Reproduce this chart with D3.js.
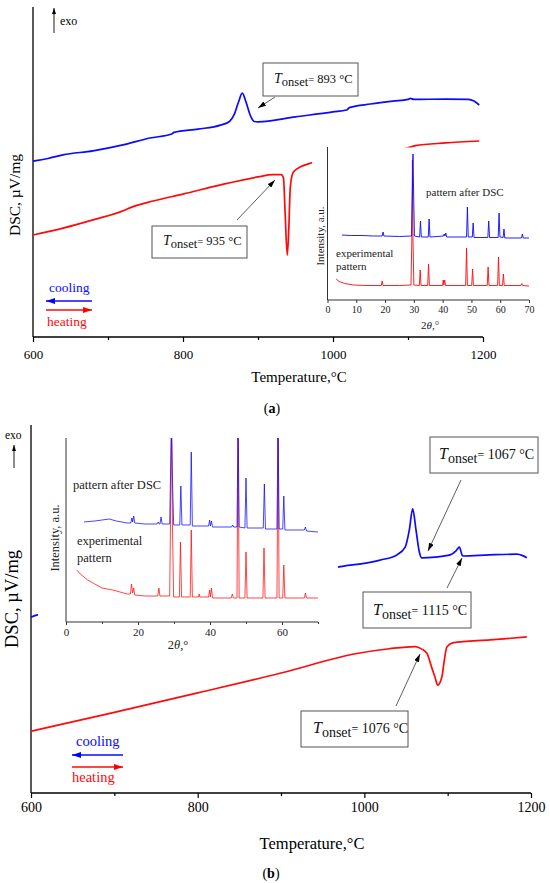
<!DOCTYPE html>
<html><head><meta charset="utf-8">
<script src="https://cdn.jsdelivr.net/npm/d3@7/dist/d3.min.js"></script>
<style>
html,body{margin:0;padding:0;background:#fff;}
svg{display:block;font-family:"Liberation Serif","Times New Roman",serif;}
</style></head>
<body>
<script>
// ---------- DATA ----------
const tempTicks = [600, 800, 1000, 1200];
const tempMinorTicks = [700, 900, 1100];
const xrdTicksA = [0, 10, 20, 30, 40, 50, 60, 70];
const xrdTicksB = [0, 20, 40, 60];
const xrdMinorB = [10, 30, 50, 70];

// Panel (a) DSC, arbitrary units [T °C, signal]
const dscA_cooling = [[600,53.3],[620,54.1],[640,55.2],[680,56.4],[720,58.2],[756,60.3],[785,61.5],[788,62.0],[820,63.0],[850,64.2],[862,65.3],[868,67.3],[874,71.2],[879,73.9],[884,71.2],[890,67.0],[895,65.3],[900,65.2],[950,66.7],[1000,68.2],[1018,68.8],[1022,69.5],[1050,70.6],[1080,71.5],[1100,72.0],[1103,72.3],[1108,72.0],[1150,72.1],[1180,72.0],[1188,71.5],[1195,70.3]];
const dscA_heating = [[600,30.9],[640,33.0],[680,35.5],[722,38.4],[730,39.2],[760,41.2],[800,43.3],[850,46.1],[900,48.5],[920,49.2],[931,49.2],[934,48.2],[936,38.5],[939,24.8],[941,32.4],[943,45.2],[946,49.4],[950,50.6],[956,51.5],[972,52.8],[1010,54.5],[1100,57.3],[1110,58.0],[1150,58.8],[1195,59.4]];

// Panel (b) DSC
const dscB_cooling = [[600,47.8],[608,48.4],[700,51.1],[800,55.2],[900,58.7],[968,61.4],[1019,63.3],[1039,64.7],[1049,66.8],[1054,71.5],[1058,77.2],[1062,71.5],[1066,65.5],[1069,63.9],[1085,64.1],[1103,64.7],[1110,65.8],[1114,66.8],[1118,64.4],[1150,64.7],[1183,64.9],[1190,64.5],[1195,63.9]];
const dscB_heating = [[600,16.8],[700,21.9],[800,27.2],[900,32.6],[991,37.9],[1030,39.2],[1061,39.8],[1069,39.1],[1075,38.0],[1081,34.0],[1085,31.3],[1088,29.3],[1093,31.5],[1096,36.1],[1099,39.7],[1106,40.8],[1151,41.6],[1195,42.4]];

// Inset (a) XRD [2θ, intensity a.u.]
const xrdA_after = [[5,65],[8,64.5],[12,64.5],[16,64],[19,64],[19.3,68],[19.6,64],[25,63.5],[29.2,64],[29.5,110],[29.7,146],[29.9,110],[30.2,64],[32.0,63],[32.3,79],[32.6,63],[35.0,63],[35.3,81],[35.6,63],[40.3,64],[40.5,66],[40.8,64],[41.1,67],[41.4,63],[47,63],[48.3,63],[48.6,93],[48.9,63],[50.3,63],[50.6,77],[50.9,62.5],[55.7,62.5],[56,79],[56.3,62.5],[59.3,62.5],[59.6,87],[59.9,63],[61.0,62.5],[61.3,71],[61.6,62],[67.4,62],[67.7,66],[68,62],[70,62]];
const xrdA_exp = [[3,21],[4,18.5],[6,16.5],[9,15],[13,14.5],[18.7,14.5],[19,19],[19.3,14.5],[25,14.5],[29.0,15],[29.3,60],[29.5,140],[29.7,60],[30.0,15],[31.9,14.5],[32.2,30],[32.5,14.5],[34.8,14.5],[35.1,36],[35.4,14.5],[40,14.5],[40.2,20],[40.4,15],[40.7,20],[41,14.5],[48.0,14.5],[48.3,52],[48.6,14.5],[50.1,14.5],[50.4,31],[50.7,14.5],[55.5,14.5],[55.8,33],[56.1,14.5],[59.1,14.5],[59.4,43],[59.7,14.5],[60.8,14.5],[61.1,26],[61.4,14.5],[67.2,14.5],[67.5,16.5],[67.8,14.5],[70,14]];

// Inset (b) XRD
const xrdB_after = [[5,100],[8,101],[10,102],[12,103],[14,101],[17,99],[18.0,99],[18.3,104],[18.5,100],[18.8,106],[19.1,99],[22,98],[25.3,98],[25.6,100],[25.9,98],[26.1,98],[26.4,105],[26.7,98],[28.8,98],[29.0,140],[29.3,200],[29.6,140],[29.9,97],[31.6,97],[31.9,136],[32.2,97],[34.5,97],[34.8,170],[35.1,96],[39.6,96],[39.9,102],[40.1,96],[40.4,101],[40.7,95],[46.0,95],[46.3,97],[46.6,95],[47.5,95],[47.8,200],[48.1,95],[49.7,94],[50.0,144],[50.3,94],[54.8,94],[55.1,138],[55.4,93],[58.6,93],[58.9,200],[59.2,93],[60.2,93],[60.5,126],[60.8,92],[66.2,92],[66.5,95],[66.8,91],[70,90]];
const xrdB_exp = [[3,52],[4,48],[6,42],[8,38],[10,34],[13,32],[17,28],[17.9,28],[18.2,38],[18.5,29],[18.8,34],[19.1,27],[22,26],[25.5,26],[25.8,34],[26.1,26],[28.8,26],[29.0,90],[29.3,200],[29.6,90],[29.9,25],[31.5,25],[31.8,80],[32.1,25],[34.5,25],[34.8,92],[35.1,25],[36.8,25],[37.0,28],[37.2,25],[39.6,25],[39.9,32],[40.1,25],[40.4,34],[40.7,24],[45.9,24],[46.2,28],[46.5,24],[47.5,24],[47.8,200],[48.1,24],[49.7,24],[50.0,70],[50.3,24],[54.7,24],[55.0,74],[55.3,24],[58.6,24],[58.9,200],[59.2,24],[60.2,24],[60.5,57],[60.8,24],[66.2,24],[66.5,29],[66.8,24],[70,24]];

const onsetA = ["893", "935"];
const onsetB = ["1067", "1115", "1076"];

// ---------- DRAW ----------
const W = 550, H = 883;
const svg = d3.select("body").append("svg").attr("width", W).attr("height", H);
const defs = svg.append("defs");
function marker(id, color, len, wid) {
  defs.append("marker").attr("id", id).attr("markerUnits", "userSpaceOnUse")
    .attr("viewBox", `0 -${wid/2} ${len} ${wid}`).attr("refX", len).attr("refY", 0)
    .attr("markerWidth", len).attr("markerHeight", wid).attr("orient", "auto")
    .append("path").attr("d", `M0,-${wid/2}L${len},0L0,${wid/2}Z`).attr("fill", color);
}
marker("ahK", "#000", 8, 5);
marker("ahB", "#0000ff", 9, 6);
marker("ahR", "#ff0000", 9, 6);
marker("ahExo", "#000", 6, 4);

const BLUE = "#0a0aff", RED = "#ff0a0a";
const FONT = "Liberation Serif";

function drawPanel(cfg) {
  const g = svg.append("g");
  const x = d3.scaleLinear().domain([600, 1200]).range([cfg.x0, cfg.x1]);
  const y = d3.scaleLinear().domain([0, 100]).range([cfg.yb, cfg.yt]);
  g.append("line").attr("x1", cfg.x0).attr("x2", cfg.x0).attr("y1", cfg.yt).attr("y2", cfg.yb)
    .attr("stroke", "#000").attr("stroke-width", 1.3);
  const ax = g.append("g").attr("transform", `translate(0,${cfg.yb})`)
    .call(d3.axisBottom(x).tickValues(tempTicks).tickFormat(d3.format("d")).tickSize(5).tickSizeOuter(0).tickPadding(cfg.tp));
  ax.attr("font-family", FONT);
  ax.select(".domain").attr("stroke-width", 1.3).attr("d", `M${cfg.x0},0H${cfg.x1}`);
  ax.selectAll(".tick line").attr("stroke-width", 1.2);
  ax.selectAll("text").attr("font-size", cfg.tfs).attr("font-family", FONT).attr("fill", "#000");
  const axm = g.append("g").attr("transform", `translate(0,${cfg.yb})`)
    .call(d3.axisBottom(x).tickValues(tempMinorTicks).tickFormat("").tickSize(3).tickSizeOuter(0));
  axm.select(".domain").remove();
  axm.selectAll(".tick line").attr("stroke-width", 1.2);
  g.append("text").attr("x", cfg.xlx).attr("y", cfg.xly).attr("text-anchor", "middle")
    .attr("font-size", cfg.xlfs).text("Temperature,°C");
  g.append("text").attr("x", cfg.plx).attr("y", cfg.ply).attr("text-anchor", "middle")
    .attr("font-size", 14).html(`(<tspan font-weight="bold">${cfg.pl}</tspan>)`);
  g.append("text").attr("transform", `translate(${cfg.ylx},${cfg.yly}) rotate(-90)`)
    .attr("text-anchor", "middle").attr("font-size", cfg.ylfs).text("DSC, µV/mg");
  const line = d3.line().x(d => x(d[0])).y(d => y(d[1])).curve(d3.curveMonotoneX);
  g.append("path").datum(cfg.heat).attr("d", line).attr("fill", "none").attr("stroke", RED).attr("stroke-width", 1.7);
  g.append("path").datum(cfg.cool).attr("d", line).attr("fill", "none").attr("stroke", BLUE).attr("stroke-width", 1.7);
  g.append("line").attr("x1", cfg.exo[0]).attr("x2", cfg.exo[0]).attr("y1", cfg.exo[1]).attr("y2", cfg.exo[2])
    .attr("stroke", "#000").attr("stroke-width", 0.9).attr("marker-end", "url(#ahExo)");
  g.append("text").attr("x", cfg.exo[3]).attr("y", cfg.exo[4]).attr("font-size", cfg.exofs).text("exo");
  const c = cfg.ch;
  g.append("text").attr("x", c.ctx).attr("y", c.cty).attr("font-size", c.fs).attr("fill", BLUE).text("cooling");
  g.append("line").attr("x1", c.xr).attr("x2", c.xl).attr("y1", c.by).attr("y2", c.by)
    .attr("stroke", BLUE).attr("stroke-width", 1.6).attr("marker-end", "url(#ahB)");
  g.append("line").attr("x1", c.xl).attr("x2", c.xr).attr("y1", c.ry).attr("y2", c.ry)
    .attr("stroke", RED).attr("stroke-width", 1.6).attr("marker-end", "url(#ahR)");
  g.append("text").attr("x", c.htx).attr("y", c.hty).attr("font-size", c.fs).attr("fill", RED).text("heating");
  return {x, y, g};
}

function drawInset(cfg) {
  const g = svg.append("g");
  g.append("rect").attr("x", cfg.bg[0]).attr("y", cfg.bg[1]).attr("width", cfg.bg[2] - cfg.bg[0]).attr("height", cfg.bg[3] - cfg.bg[1]).attr("fill", "#fff");
  const x = d3.scaleLinear().domain([0, 70]).range([cfg.x0, cfg.x1]);
  const y = d3.scaleLinear().domain([0, cfg.ymax]).range([cfg.yb, cfg.yt]);
  const cid = "clip" + cfg.id;
  defs.append("clipPath").attr("id", cid).append("rect").attr("x", cfg.x0).attr("y", cfg.yt).attr("width", cfg.x1 - cfg.x0).attr("height", cfg.yb - cfg.yt);
  const line = d3.line().x(d => x(d[0])).y(d => y(d[1]));
  const pg = g.append("g").attr("clip-path", `url(#${cid})`);
  pg.append("path").datum(cfg.exp).attr("d", line).attr("fill", "none").attr("stroke", RED).attr("stroke-width", 1).attr("stroke-opacity", cfg.op);
  pg.append("path").datum(cfg.after).attr("d", line).attr("fill", "none").attr("stroke", BLUE).attr("stroke-width", 1).attr("stroke-opacity", cfg.op);
  g.append("line").attr("x1", cfg.x0).attr("x2", cfg.x0).attr("y1", cfg.yt).attr("y2", cfg.yb).attr("stroke", "#333").attr("stroke-width", 1);
  const ax = g.append("g").attr("transform", `translate(0,${cfg.yb})`)
    .call(d3.axisBottom(x).tickValues(cfg.ticks).tickSize(3).tickSizeOuter(0).tickPadding(cfg.tp));
  ax.attr("font-family", FONT);
  ax.select(".domain").attr("stroke", "#333").attr("d", `M${cfg.x0},0H${cfg.x1}`);
  ax.selectAll(".tick line").attr("stroke", "#333");
  ax.selectAll("text").attr("font-size", cfg.tfs).attr("font-family", FONT).attr("fill", "#222");
  if (cfg.minor) {
    const am = g.append("g").attr("transform", `translate(0,${cfg.yb})`)
      .call(d3.axisBottom(x).tickValues(cfg.minor).tickFormat("").tickSize(2).tickSizeOuter(0));
    am.select(".domain").remove();
    am.selectAll(".tick line").attr("stroke", "#333");
  }
  g.append("text").attr("x", cfg.thx).attr("y", cfg.thy).attr("text-anchor", "middle").attr("font-size", cfg.lfs).attr("fill", "#222")
    .html(`2<tspan font-style="italic">θ</tspan>,°`);
  g.append("text").attr("transform", `translate(${cfg.ilx},${cfg.ily}) rotate(-90)`).attr("text-anchor", "middle")
    .attr("font-size", cfg.lfs).attr("fill", "#222").text("Intensity, a.u.");
  g.append("text").attr("x", cfg.pa[0]).attr("y", cfg.pa[1]).attr("font-size", cfg.lfs).attr("fill", "#222").text("pattern after DSC");
  g.append("text").attr("x", cfg.ex[0]).attr("y", cfg.ex[1]).attr("font-size", cfg.lfs).attr("fill", "#222").text("experimental");
  g.append("text").attr("x", cfg.ex[0]).attr("y", cfg.ex[2]).attr("font-size", cfg.lfs).attr("fill", "#222").text("pattern");
}

function annot(box, tx, ty, val, fsT, fs, arrow) {
  const g = svg.append("g");
  g.append("line").attr("x1", arrow[0]).attr("y1", arrow[1]).attr("x2", arrow[2]).attr("y2", arrow[3])
    .attr("stroke", "#333").attr("stroke-width", 0.8).attr("marker-end", "url(#ahK)");
  g.append("rect").attr("x", box[0]).attr("y", box[1]).attr("width", box[2] - box[0]).attr("height", box[3] - box[1])
    .attr("fill", "#fff").attr("stroke", "#555").attr("stroke-width", 1);
  const t = g.append("text").attr("x", tx).attr("y", ty).attr("font-size", fs).attr("fill", "#111");
  t.append("tspan").attr("font-style", "italic").attr("font-size", fsT).text("T");
  t.append("tspan").attr("dy", fs * 0.25).text("onset");
  t.append("tspan").attr("dy", -fs * 0.25).attr("font-size", fs * 0.85).text("=");
  t.append("tspan").text(" " + val + " °C");
}

// Panel (a)
drawPanel({x0: 33, x1: 483, yt: 7, yb: 337, tp: 8, tfs: 13, xlx: 299, xly: 382, xlfs: 15,
  plx: 272, ply: 413, pl: "a", ylx: 20, yly: 195, ylfs: 15.5,
  cool: dscA_cooling, heat: dscA_heating,
  exo: [54, 33, 8, 60, 25], exofs: 12,
  ch: {ctx: 49, cty: 292, xl: 46, xr: 92, by: 301, ry: 310, htx: 47, hty: 326, fs: 13.5}});
drawInset({id: "a", bg: [312, 147.5, 545, 334], x0: 327.5, x1: 529, yt: 147, yb: 300, ymax: 153,
  exp: xrdA_exp, after: xrdA_after, op: 0.9, ticks: xrdTicksA, minor: null, tp: 3, tfs: 10,
  thx: 430, thy: 329, lfs: 11, ilx: 324, ily: 236, pa: [426, 196], ex: [336, 257, 270]});
annot([263, 63, 358, 96], 274, 83, onsetA[0], 14, 12.5, [275, 97, 258, 108]);
annot([152, 226, 247, 258], 163, 245, onsetA[1], 14, 12.5, [237, 220, 275, 180]);

// Panel (b)
drawPanel({x0: 31, x1: 531, yt: 425, yb: 793, tp: 4, tfs: 14, xlx: 312, xly: 849, xlfs: 16.5,
  plx: 271, ply: 878, pl: "b", ylx: 18, yly: 599, ylfs: 18.5,
  cool: dscB_cooling, heat: dscB_heating,
  exo: [14, 468, 445, 5, 439], exofs: 11.5,
  ch: {ctx: 76, cty: 746, xl: 72, xr: 123, by: 755, ry: 767, htx: 72, hty: 782, fs: 14.5}});
drawInset({id: "b", bg: [38, 427, 338, 652], x0: 66, x1: 318, yt: 438, yb: 622, ymax: 184,
  exp: xrdB_exp, after: xrdB_after, op: 0.75, ticks: xrdTicksB, minor: xrdMinorB, tp: 3, tfs: 11,
  thx: 178, thy: 649, lfs: 12.5, ilx: 59, ily: 538, pa: [73, 489], ex: [77, 545, 562]});
annot([430, 437, 538, 473], 439, 459, onsetB[0], 16, 14, [461, 480, 428, 551]);
annot([363, 592, 471, 628], 373, 615, onsetB[1], 16, 14, [447, 588, 462, 558]);
annot([301, 711, 408, 747], 313, 733, onsetB[2], 16, 14, [396, 706, 420, 654]);
</script>
</body></html>
